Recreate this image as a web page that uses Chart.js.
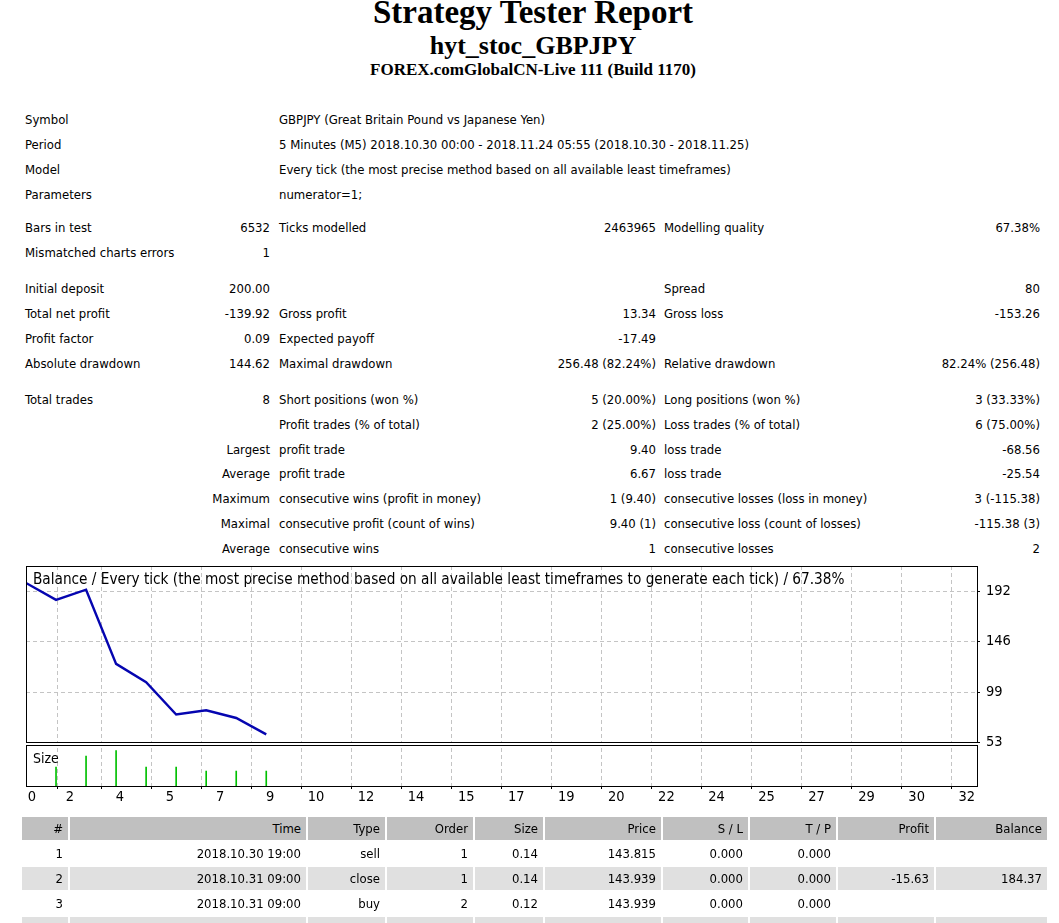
<!DOCTYPE html>
<html>
<head>
<meta charset="utf-8">
<title>Strategy Tester: hyt_stoc_GBPJPY</title>
<script src="https://cdn.jsdelivr.net/npm/chart.js@4.4.1/dist/chart.umd.min.js"></script>
<style>
html, body { margin: 0; padding: 0; overflow: hidden; background: #fff; }
body { width: 1059px; height: 923px; position: relative; color: #000;
  font-family: "DejaVu Sans Condensed", "DejaVu Sans", sans-serif; font-size: 13px; }
.hd { position: absolute; left: 0; width: 1066px; text-align: center; white-space: nowrap;
  font-family: "Liberation Serif", "Times New Roman", serif; font-weight: bold; }
#t1 { top: -4px; font-size: 33px; line-height: 33px; }
#t2 { top: 33px; font-size: 26px; line-height: 26px; }
#t3 { top: 61px; font-size: 17px; line-height: 17px; }
.row { position: absolute; left: 0; width: 1059px; height: 25px; line-height: 25px; white-space: nowrap; }
.row span { position: absolute; top: 0; }
.c1 { left: 25px; }
.c2 { right: 789px; }
.c3 { left: 279px; }
.c4 { right: 403px; }
.c5 { left: 664px; }
.c6 { right: 19px; }
#chartBox { position: absolute; left: 0; top: 551px; width: 1059px; height: 267px; }
.lbl { position: absolute; left: 33px; line-height: 18px; white-space: nowrap; }
.cell { position: absolute; height: 23px; line-height: 23px; text-align: right; padding-right: 5px;
  box-sizing: border-box; white-space: nowrap; overflow: hidden; }
</style>
</head>
<body>
<div class="hd" id="t1">Strategy Tester Report</div>
<div class="hd" id="t2">hyt_stoc_GBPJPY</div>
<div class="hd" id="t3">FOREX.comGlobalCN-Live 111 (Build 1170)</div>

<div class="row" style="top:107px"><span class="c1">Symbol</span><span class="c3">GBPJPY (Great Britain Pound vs Japanese Yen)</span></div>
<div class="row" style="top:132px"><span class="c1">Period</span><span class="c3">5 Minutes (M5) 2018.10.30 00:00 - 2018.11.24 05:55 (2018.10.30 - 2018.11.25)</span></div>
<div class="row" style="top:157px"><span class="c1">Model</span><span class="c3">Every tick (the most precise method based on all available least timeframes)</span></div>
<div class="row" style="top:182px"><span class="c1">Parameters</span><span class="c3">numerator=1;</span></div>

<div class="row" style="top:215px"><span class="c1">Bars in test</span><span class="c2">6532</span><span class="c3">Ticks modelled</span><span class="c4">2463965</span><span class="c5">Modelling quality</span><span class="c6">67.38%</span></div>
<div class="row" style="top:240px"><span class="c1">Mismatched charts errors</span><span class="c2">1</span></div>

<div class="row" style="top:276px"><span class="c1">Initial deposit</span><span class="c2">200.00</span><span class="c5">Spread</span><span class="c6">80</span></div>
<div class="row" style="top:301px"><span class="c1">Total net profit</span><span class="c2">-139.92</span><span class="c3">Gross profit</span><span class="c4">13.34</span><span class="c5">Gross loss</span><span class="c6">-153.26</span></div>
<div class="row" style="top:326px"><span class="c1">Profit factor</span><span class="c2">0.09</span><span class="c3">Expected payoff</span><span class="c4">-17.49</span></div>
<div class="row" style="top:351px"><span class="c1">Absolute drawdown</span><span class="c2">144.62</span><span class="c3">Maximal drawdown</span><span class="c4">256.48 (82.24%)</span><span class="c5">Relative drawdown</span><span class="c6">82.24% (256.48)</span></div>

<div class="row" style="top:387px"><span class="c1">Total trades</span><span class="c2">8</span><span class="c3">Short positions (won %)</span><span class="c4">5 (20.00%)</span><span class="c5">Long positions (won %)</span><span class="c6">3 (33.33%)</span></div>
<div class="row" style="top:412px"><span class="c3">Profit trades (% of total)</span><span class="c4">2 (25.00%)</span><span class="c5">Loss trades (% of total)</span><span class="c6">6 (75.00%)</span></div>
<div class="row" style="top:437px"><span class="c2">Largest</span><span class="c3">profit trade</span><span class="c4">9.40</span><span class="c5">loss trade</span><span class="c6">-68.56</span></div>
<div class="row" style="top:461px"><span class="c2">Average</span><span class="c3">profit trade</span><span class="c4">6.67</span><span class="c5">loss trade</span><span class="c6">-25.54</span></div>
<div class="row" style="top:486px"><span class="c2">Maximum</span><span class="c3">consecutive wins (profit in money)</span><span class="c4">1 (9.40)</span><span class="c5">consecutive losses (loss in money)</span><span class="c6">3 (-115.38)</span></div>
<div class="row" style="top:511px"><span class="c2">Maximal</span><span class="c3">consecutive profit (count of wins)</span><span class="c4">9.40 (1)</span><span class="c5">consecutive loss (count of losses)</span><span class="c6">-115.38 (3)</span></div>
<div class="row" style="top:536px"><span class="c2">Average</span><span class="c3">consecutive wins</span><span class="c4">1</span><span class="c5">consecutive losses</span><span class="c6">2</span></div>

<div id="chartBox"><canvas id="balanceChart"></canvas></div>
<div class="lbl" style="top:570px; font-size:15.2px">Balance / Every tick (the most precise method based on all available least timeframes to generate each tick) / 67.38%</div>
<div class="lbl" style="top:749px; font-size:14px">Size</div>

<div id="trades"></div>

<script>
// balance after each deal, deal 0 = initial deposit
const tradeNo = [0, 1, 2, 3, 4, 5, 6, 7, 8];
const balance = [200.00, 184.37, 193.77, 125.21, 108.20, 78.39, 82.33, 75.20, 60.08];
// lot size bars in the lower panel
const sizeTradeNo = [1, 2, 3, 4, 5, 6, 7, 8];
const sizeLots = [0.14, 0.22, 0.26, 0.14, 0.14, 0.11, 0.11, 0.11];
const xTickLabels = ['0', '2', '4', '5', '7', '9', '10', '12', '14', '15', '17', '19', '20', '22', '24', '25', '27', '29', '30', '32'];
const balanceTicks = [53, 99, 146, 192];
const balanceMin = 53;
const balanceMax = 215.7;
const sizeMax = 0.324;
const xStep = 5 / 3;
const zeroLabelAt = 0.4; // the "0" label sits right of the left edge

const tradeHeader = ['#', 'Time', 'Type', 'Order', 'Size', 'Price', 'S / L', 'T / P', 'Profit', 'Balance'];
const tradeRows = [
    ['1', '2018.10.30 19:00', 'sell', '1', '0.14', '143.815', '0.000', '0.000', '', ''],
    ['2', '2018.10.31 09:00', 'close', '1', '0.14', '143.939', '0.000', '0.000', '-15.63', '184.37'],
    ['3', '2018.10.31 09:00', 'buy', '2', '0.12', '143.939', '0.000', '0.000', '', ''],
    ['', '', '', '', '', '', '', '', '', '']
];

const FONT = '"DejaVu Sans Condensed", "DejaVu Sans", sans-serif';
Chart.defaults.font.family = FONT;
Chart.defaults.color = '#000';

const panelFrames = {
    id: 'panelFrames',
    afterDraw(chart) {
        const ctx = chart.ctx;
        const area = chart.chartArea;
        const yb = chart.scales.y;
        const ys = chart.scales.ySize;
        const l = Math.round(area.left) + 0.5;
        const w = Math.round(area.right) - Math.round(area.left);
        ctx.save();
        ctx.fillStyle = '#fff';
        ctx.fillRect(l, Math.round(yb.bottom) + 1, w, 2);
        ctx.strokeStyle = '#000';
        ctx.lineWidth = 1;
        ctx.strokeRect(l, Math.round(yb.top) + 0.5, w, Math.round(yb.bottom) - Math.round(yb.top));
        ctx.strokeRect(l, Math.round(ys.top) + 3.5, w, Math.round(ys.bottom) - Math.round(ys.top) - 3);
        ctx.restore();
    }
};

function fixWidth(scale) { scale.width = 82; }
const isZeroLabel = (c) => c.tick && c.tick.value === zeroLabelAt;

new Chart(document.getElementById('balanceChart'), {
    type: 'line',
    data: {
        datasets: [{
            type: 'line',
            data: tradeNo.map((x, i) => ({ x: x, y: balance[i] })),
            yAxisID: 'y',
            borderColor: '#0505b0',
            borderWidth: 2.4,
            pointRadius: 0,
            tension: 0
        }, {
            type: 'bar',
            data: sizeTradeNo.map((x, i) => ({ x: x, y: sizeLots[i] })),
            yAxisID: 'ySize',
            backgroundColor: '#00c000',
            borderWidth: 0,
            barThickness: 1
        }]
    },
    options: {
        responsive: true,
        maintainAspectRatio: false,
        animation: false,
        layout: { padding: { top: 15, left: 26, right: 0, bottom: 0 } },
        plugins: { legend: { display: false }, tooltip: { enabled: false } },
        scales: {
            x: {
                type: 'linear',
                min: 0,
                max: xStep * (xTickLabels.length - 1),
                offset: false,
                afterBuildTicks: (s) => {
                    const t = xTickLabels.map((lab, i) => ({ value: i * xStep, label: i === 0 ? '' : lab }));
                    t.splice(1, 0, { value: zeroLabelAt, label: xTickLabels[0] });
                    s.ticks = t;
                },
                afterFit: (s) => { s.height = 32; },
                grid: {
                    color: (c) => isZeroLabel(c) ? 'rgba(0,0,0,0)' : '#c4c4c4',
                    tickColor: (c) => isZeroLabel(c) ? 'rgba(0,0,0,0)' : '#000',
                    drawTicks: true, tickLength: 3
                },
                border: { display: false, dash: [4, 3] },
                ticks: {
                    autoSkip: false, maxRotation: 0, align: 'end', labelOffset: -2, padding: 0,
                    font: { size: 14.5 },
                    callback: (v, i, ticks) => ticks[i].label
                }
            },
            y: {
                type: 'linear',
                position: 'right',
                stack: 'panels',
                stackWeight: 176,
                min: balanceMin,
                max: balanceMax,
                afterBuildTicks: (s) => { s.ticks = balanceTicks.map(v => ({ value: v })); },
                afterFit: fixWidth,
                grid: { color: '#c4c4c4', drawTicks: true, tickLength: 3, tickColor: '#000' },
                border: { display: false, dash: [4, 3] },
                ticks: { padding: 6, font: { size: 14.5 }, callback: (v) => String(v) }
            },
            ySize: {
                type: 'linear',
                position: 'right',
                stack: 'panels',
                stackWeight: 44,
                min: 0,
                max: sizeMax,
                afterFit: fixWidth,
                grid: { display: false },
                border: { display: false },
                ticks: { display: false }
            }
        }
    },
    plugins: [panelFrames]
});

// deals table
const colLeft = [22, 70, 308, 387, 475, 545, 663, 750, 838, 936];
const colWidth = [46, 236, 77, 86, 68, 116, 85, 86, 96, 111];
const rowTop = [817, 842, 867, 892, 917];
const rowBg = ['#c0c0c0', '#ffffff', '#e0e0e0', '#ffffff', '#e0e0e0'];
const box = document.getElementById('trades');
[tradeHeader].concat(tradeRows).forEach((row, r) => {
    row.forEach((txt, c) => {
        const d = document.createElement('div');
        d.className = 'cell';
        d.style.left = colLeft[c] + 'px';
        d.style.top = rowTop[r] + 'px';
        d.style.width = colWidth[c] + 'px';
        d.style.background = rowBg[r];
        d.textContent = txt;
        box.appendChild(d);
    });
});
</script>
</body>
</html>
